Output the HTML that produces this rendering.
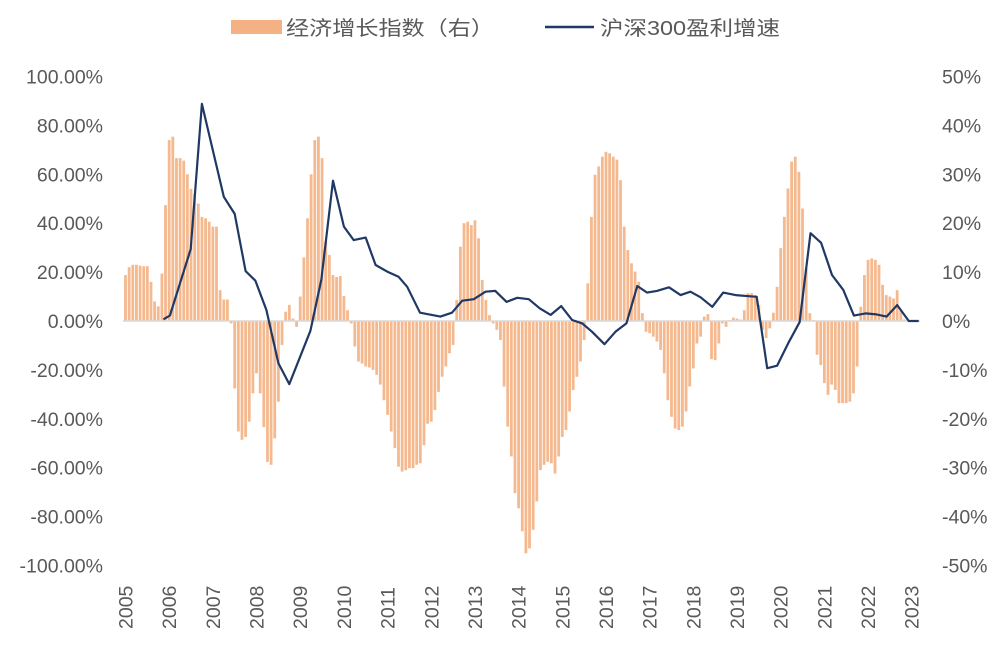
<!DOCTYPE html>
<html><head><meta charset="utf-8"><style>
body{margin:0;background:#fff;}
svg text{font-family:"Liberation Sans","Noto Sans CJK SC",sans-serif;fill:#595959;}
</style></head><body>
<svg id="chart" width="1005" height="642" viewBox="0 0 1005 642" xmlns="http://www.w3.org/2000/svg">
<g id="legend">
<rect x="231" y="20" width="51" height="14" fill="#F4B183"/>
<text x="286" y="35" font-size="20" textLength="208" lengthAdjust="spacingAndGlyphs">经济增长指数（右）</text>
<line x1="545" y1="27" x2="594" y2="27" stroke="#203864" stroke-width="2.5"/>
<text x="600" y="35" font-size="20" textLength="180" lengthAdjust="spacingAndGlyphs">沪深300盈利增速</text>
</g>
<g id="bars"></g>
<line x1="123" y1="321" x2="920" y2="321" stroke="#d9d9d9" stroke-width="1.5"/>
<g id="line"></g>
<g id="leftAxis"></g>
<g id="rightAxis"></g>
<g id="xAxis"></g>
</svg>
<script>
// Monthly economic growth index (right axis, %), starting Jan 2005
const barValues = [9.4,11,11.5,11.5,11.3,11.2,11.2,8,4,3,9.7,23.7,37,37.7,33.3,33.3,32.8,30,27,26,24,21.3,21,20.3,19.3,19.3,6.3,4.4,4.4,-0.5,-13.8,-22.6,-24.3,-23.7,-20.6,-14.8,-10.7,-14.8,-21.7,-28.8,-29.4,-24,-16.5,-4.9,1.9,3.3,0.5,-1.2,5,13,21,30,37,37.7,33.3,16.2,13.5,9.4,9,9.2,5.1,2.2,-0.5,-5.2,-8.3,-8.7,-9.3,-9.5,-10,-11,-13,-16.2,-19.2,-22.6,-26,-29.8,-30.8,-30.5,-30.1,-30.1,-29.4,-29.1,-25.4,-21,-20.6,-18.2,-14.5,-11.4,-9.3,-6.6,-4.9,4.3,15.2,20,20.3,19.6,20.6,16.9,8.4,4.3,1.2,-0.5,-1.8,-3.9,-13.4,-21.6,-27.7,-35.2,-38.3,-43,-47.5,-46.5,-42.7,-36.9,-30.5,-29.4,-28.8,-29.1,-31.2,-27.7,-23.7,-22.3,-18.5,-14.1,-11.4,-8.3,-3.9,7.7,21.3,29.9,31.6,33.6,34.6,34.3,33.6,33,28.8,19.3,14.5,11.8,10.1,8,1.6,-2.2,-2.5,-3.2,-4.2,-5.9,-10.7,-16.2,-19.6,-22,-22.3,-21.6,-18.5,-13.4,-9.7,-4.6,-3.2,0.9,1.4,-7.8,-8,-4.6,-0.5,-1.2,0.2,0.7,0.5,0.3,2.2,5.7,5.7,5.3,3.3,-1.8,-3.5,-1.5,1.7,7,14.9,21.3,27.1,32.6,33.6,30.5,23,10.8,1.6,0.2,-6.9,-9,-12.7,-15.1,-13,-14.1,-16.8,-16.8,-16.8,-16.5,-14.8,-9.3,2.9,9.4,12.5,12.8,12.5,11.5,7.4,5.3,5,4.6,6.3,2.2,0.3,0.2];
// CSI300 earnings growth (left axis, %), at month index
const lineMonths = [10.4,12.2,17.9,21,27,30,33,35.7,38.7,42,45,50.8,53.8,57,60,62.7,66,68.7,71.9,75,77.4,80.9,86.5,89.7,92.5,95.7,98.9,101.6,104.7,107.6,110.8,113.8,116.8,119.7,122.7,125.5,128.2,131.6,134.6,137.6,140.6,143.3,146,149.3,152.5,155.2,158,161.2,164.2,167.6,173.4,176.3,179,182.2,185.2,188.2,191.1,194.1,197.2,200.1,203.3,206.3,209.1,212,215.2,217.9];
const lineValues = [0.7,2.2,29.4,88.8,50.8,43.8,20.4,16.5,4.5,-17.3,-25.8,-4,16.8,57.4,38.6,33.1,34.1,22.9,20.2,18.1,14,3.4,1.8,3.4,8.3,8.9,12,12.3,7.8,9.5,8.9,5.2,2.5,6.1,0.4,-1,-4.4,-9.5,-4.4,-1,14.3,11.6,12.3,13.8,10.6,12,9.7,5.8,11.6,10.6,9.9,-19.3,-18.3,-8.7,-0.5,35.9,32,18.8,12.7,2.2,3.1,2.7,1.8,6.5,0,0];
const leftTicks = [100,80,60,40,20,0,-20,-40,-60,-80,-100];
const rightTicks = [50,40,30,20,10,0,-10,-20,-30,-40,-50];
const years = [2005,2006,2007,2008,2009,2010,2011,2012,2013,2014,2015,2016,2017,2018,2019,2020,2021,2022,2023];

const NS='http://www.w3.org/2000/svg';
const X0=125.5, PITCH=3.64;
const xMonth = m => X0 + m*PITCH;
const yLeft = v => 321 - v*2.445;
const yRight = v => 321 - v*4.89;
function mk(tag){return document.createElementNS(NS,tag);}

const gb=document.getElementById('bars');
barValues.forEach((v,i)=>{
  const r=mk('rect');
  
  
  const y=yRight(Math.max(v,0)), h=Math.abs(yRight(v)-yRight(0));
  r.setAttribute('x',xMonth(i)-1.4);r.setAttribute('width',2.8);
  r.setAttribute('y',y);r.setAttribute('height',h);
  r.setAttribute('fill','#F4B183');r.setAttribute('fill-opacity','0.9');
  gb.appendChild(r);
});

const gl=document.getElementById('line');
const p=mk('polyline');


p.setAttribute('points',lineValues.map((v,i)=>xMonth(lineMonths[i]).toFixed(1)+','+yLeft(v).toFixed(1)).join(' '));
p.setAttribute('fill','none');p.setAttribute('stroke','#203864');p.setAttribute('stroke-width','2.2');p.setAttribute('stroke-linejoin','round');
gl.appendChild(p);

const la=document.getElementById('leftAxis');
leftTicks.forEach(v=>{
  const t=mk('text');
  
  
  t.setAttribute('x',103);t.setAttribute('y',yLeft(v)+7);t.setAttribute('text-anchor','end');t.setAttribute('font-size','19.5');
  t.textContent=v.toFixed(2)+'%';la.appendChild(t);
});
const ra=document.getElementById('rightAxis');
rightTicks.forEach(v=>{
  const t=mk('text');
  
  
  t.setAttribute('x',942);t.setAttribute('y',yRight(v)+7);t.setAttribute('font-size','19.5');
  t.textContent=v+'%';ra.appendChild(t);
});
const xa=document.getElementById('xAxis');
years.forEach((yr,i)=>{
  const t=mk('text');
  
  
  const x=xMonth(i*12)+7;
  t.setAttribute('transform','translate('+x+',629) rotate(-90)');
  t.setAttribute('font-size','19.5');
  t.textContent=yr;xa.appendChild(t);
});
</script>
</body></html>
